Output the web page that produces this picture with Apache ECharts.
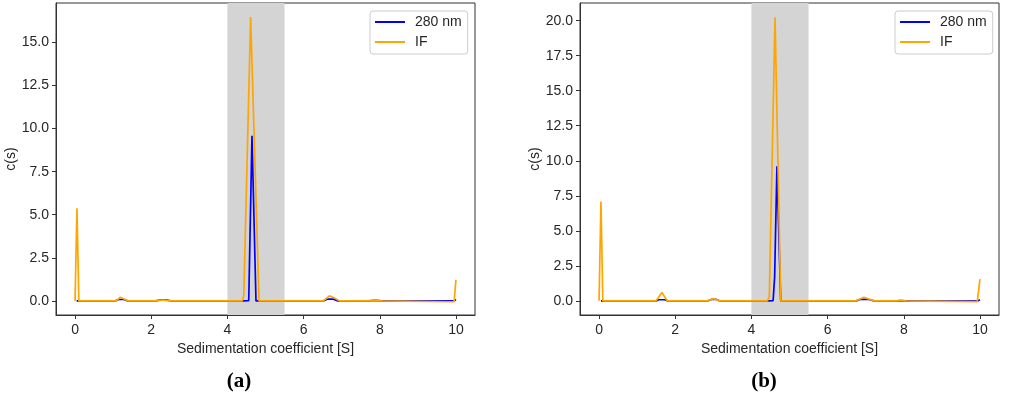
<!DOCTYPE html>
<html><head><meta charset="utf-8">
<script src="https://cdn.jsdelivr.net/npm/echarts@6/dist/echarts.min.js"></script>
<style>html,body{margin:0;padding:0;background:#fff}#c{width:1024px;height:399px}</style>
</head><body><div id="c"></div><script>
// ---- data ----
const xTicks = [0, 2, 4, 6, 8, 10];
const yTicksA = [0, 2.5, 5, 7.5, 10, 12.5, 15];
const yTicksB = [0, 2.5, 5, 7.5, 10, 12.5, 15, 17.5, 20];
const bandRange = [4, 5.5];
const seriesNames = ['280 nm', 'IF'];
const panelLabels = ['(a)', '(b)'];

// panel (a)
const uvA_x = [0.04, 1.05, 1.15, 1.28, 1.38, 2.1, 2.25, 2.4, 2.52, 4.39, 4.56, 4.645, 4.75, 6.52, 6.62, 6.78, 6.9, 7.7, 7.88, 8.05, 9.95, 10.0];
const uvA_y = [0.0, 0.0, 0.08, 0.08, 0.0, 0.0, 0.05, 0.05, 0.0, 0.0, 0.02, 9.58, 0.0, 0.0, 0.1, 0.1, 0.0, 0.0, 0.03, 0.0, 0.0, 0.08];
const ifA_x = [0.0, 0.05, 0.1, 1.09, 1.18, 1.26, 1.39, 2.13, 2.3, 2.48, 4.39, 4.43, 4.61, 4.83, 6.52, 6.68, 6.8, 6.94, 7.67, 7.9, 8.07, 9.95, 10.0];
const ifA_y = [0.0, 5.38, 0.0, 0.0, 0.21, 0.14, 0.0, 0.0, 0.05, 0.0, 0.0, 0.3, 16.47, 0.0, 0.0, 0.29, 0.18, 0.0, 0.0, 0.03, 0.0, -0.05, 1.22];

// panel (b)
const uvB_x = [0.05, 1.5, 1.57, 1.73, 1.8, 2.85, 2.95, 3.08, 3.16, 4.44, 4.57, 4.61, 4.67, 4.77, 6.75, 6.85, 7.08, 7.22, 7.8, 7.92, 8.05, 9.95, 10.0];
const uvB_y = [0.0, 0.0, 0.08, 0.08, 0.0, 0.0, 0.1, 0.1, 0.0, 0.0, 0.02, 1.7, 9.6, 0.0, 0.0, 0.1, 0.1, 0.0, 0.0, 0.02, 0.0, 0.0, 0.08];
const ifB_x = [0.0, 0.05, 0.1, 1.5, 1.65, 1.79, 2.85, 3.0, 3.16, 4.42, 4.47, 4.62, 4.77, 6.75, 6.95, 7.22, 7.8, 7.92, 8.05, 9.93, 10.0];
const ifB_y = [0.0, 7.09, 0.0, 0.0, 0.59, 0.0, 0.0, 0.16, 0.0, 0.0, 0.3, 20.25, 0.0, 0.0, 0.26, 0.0, 0.0, 0.03, 0.0, -0.05, 1.55];

// ---- chart ----
const zip = (xs, ys) => xs.map((x, i) => [x, ys[i]]);
const FONT = 'Liberation Sans, Arial, sans-serif';
const AX = '#333333';
const TXT = '#262626';
const BLUE = '#0000ff';
const ORANGE = '#ffa500';

function xAxis(g) {
  return {
    type: 'value', gridIndex: g, min: -0.5, max: 10.5,
    splitLine: { show: false },
    axisLine: { show: true, onZero: false, lineStyle: { color: AX, width: 1 } },
    axisTick: { show: true, customValues: xTicks, length: 4, lineStyle: { color: AX } },
    axisLabel: { customValues: xTicks, fontSize: 14, color: TXT, fontFamily: FONT, margin: 8 },
    name: 'Sedimentation coefficient [S]', nameLocation: 'middle', nameGap: 26,
    nameTextStyle: { fontSize: 14, color: TXT, fontFamily: FONT }
  };
}
function yAxis(g, min, max, ticks) {
  return {
    type: 'value', gridIndex: g, min: min, max: max,
    splitLine: { show: false },
    axisLine: { show: true, onZero: false, lineStyle: { color: AX, width: 1 } },
    axisTick: { show: true, customValues: ticks, length: 4, lineStyle: { color: AX } },
    axisLabel: { customValues: ticks, fontSize: 14, color: TXT, fontFamily: FONT, margin: 7,
      formatter: v => v.toFixed(1) },
    name: 'c(s)', nameLocation: 'middle', nameGap: 37, nameRotate: 90,
    nameTextStyle: { fontSize: 14, color: TXT, fontFamily: FONT }
  };
}
function band(g) {
  return {
    type: 'line', xAxisIndex: g, yAxisIndex: g, data: [], silent: true, z: 1,
    markArea: { silent: true, itemStyle: { color: '#d4d4d4' },
      data: [[{ xAxis: bandRange[0] }, { xAxis: bandRange[1] }]] }
  };
}
function line(g, name, color, data) {
  return {
    type: 'line', name: name, xAxisIndex: g, yAxisIndex: g, data: data,
    showSymbol: false, symbol: 'none', z: 3, animation: false,
    lineStyle: { color: color, width: 1.7 }, itemStyle: { color: color }
  };
}
function legend(left) {
  return {
    left: left, top: 11, orient: 'vertical', data: seriesNames,
    icon: 'rect', itemWidth: 30, itemHeight: 2, itemGap: 6,
    padding: [4, 6, 5, 5], borderColor: '#cccccc', borderWidth: 1, borderRadius: 3,
    backgroundColor: 'rgba(255,255,255,0.85)',
    textStyle: { fontSize: 14, color: TXT, fontFamily: FONT, padding: [0, 0, 0, 5] }
  };
}

const chart = echarts.init(document.getElementById('c'), null, { renderer: 'canvas' });
chart.setOption({
  animation: false,
  backgroundColor: '#ffffff',
  grid: [
    { left: 56, top: 3, width: 419, height: 312, show: true, borderColor: AX, borderWidth: 1, backgroundColor: 'transparent' },
    { left: 580, top: 3, width: 419, height: 312, show: true, borderColor: AX, borderWidth: 1, backgroundColor: 'transparent' }
  ],
  xAxis: [xAxis(0), xAxis(1)],
  yAxis: [yAxis(0, -0.82, 17.29, yTicksA), yAxis(1, -1.01, 21.26, yTicksB)],
  legend: [legend(370), legend(895)],
  series: [
    band(0), band(1),
    line(0, seriesNames[0], BLUE, zip(uvA_x, uvA_y)),
    line(0, seriesNames[1], ORANGE, zip(ifA_x, ifA_y)),
    line(1, seriesNames[0], BLUE, zip(uvB_x, uvB_y)),
    line(1, seriesNames[1], ORANGE, zip(ifB_x, ifB_y))
  ],
  graphic: [
    { type: 'text', x: 239, y: 382, style: { text: panelLabels[0], font: 'bold 21px "Liberation Serif", "Times New Roman", serif', fill: '#000', align: 'center', verticalAlign: 'middle' } },
    { type: 'text', x: 764, y: 382, style: { text: panelLabels[1], font: 'bold 21px "Liberation Serif", "Times New Roman", serif', fill: '#000', align: 'center', verticalAlign: 'middle' } }
  ]
});
</script></body></html>
